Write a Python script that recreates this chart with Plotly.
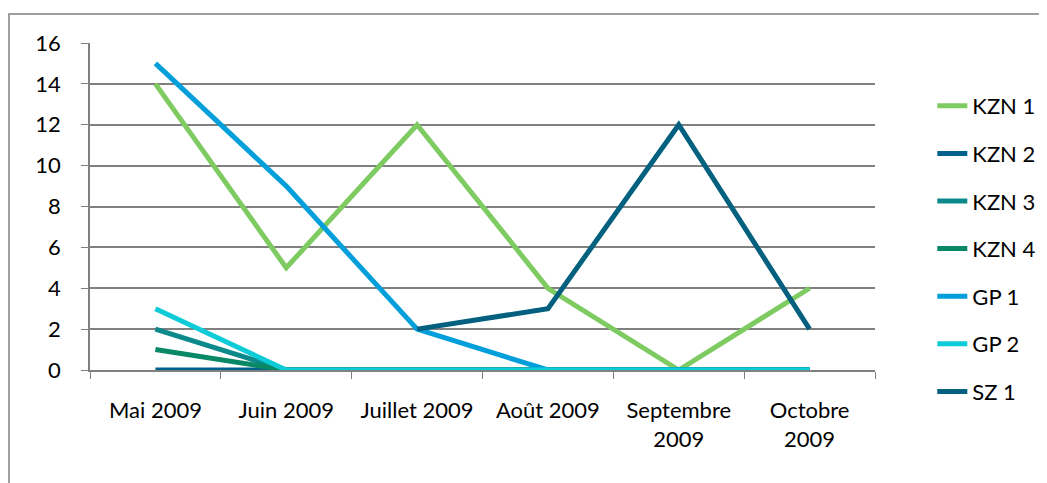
import plotly.graph_objects as go

months = ["Mai 2009", "Juin 2009", "Juillet 2009", "Août 2009", "Septembre<br>2009", "Octobre<br>2009"]
kzn1 = [14, 5, 12, 4, 0, 4]
kzn2 = [0, 0, 0, 0, 0, 0]
kzn3 = [2, 0, 0, 0, 0, 0]
kzn4 = [1, 0, 0, 0, 0, 0]
gp1 = [15, 9, 2, 0, 0, 0]
gp2 = [3, 0, 0, 0, 0, 0]
sz1 = [None, None, 2, 3, 12, 2]

series = [
    ("KZN 1", kzn1, "#7ECB62"),
    ("KZN 2", kzn2, "#00628C"),
    ("KZN 3", kzn3, "#0B898B"),
    ("KZN 4", kzn4, "#088865"),
    ("GP 1", gp1, "#029FDA"),
    ("GP 2", gp2, "#0DCCD7"),
    ("SZ 1", sz1, "#03607F"),
]

fig = go.Figure()
for i, (name, vals, col) in enumerate(series):
    fig.add_trace(go.Scatter(
        x=months, y=vals, name=name, mode="lines",
        line=dict(color=col, width=5),
        legendgroup=f"g{i}",
        connectgaps=False,
    ))

font = dict(family="Lato, Open Sans, sans-serif", size=22, color="#000000")

fig.update_layout(
    width=1047, height=483,
    margin=dict(l=82, r=180, t=35, b=121, autoexpand=False),
    paper_bgcolor="white", plot_bgcolor="white",
    font=font,
    showlegend=True,
    legend=dict(x=1.073, xanchor="left", y=0.8716, yanchor="top",
                yref="paper", tracegroupgap=16, font=font,
                maxheight=1.0,
                bgcolor="rgba(0,0,0,0)"),
    xaxis=dict(
        type="category", tickson="boundaries", ticks="outside", ticklen=7,
        tickcolor="#808080", showline=True, linecolor="#808080", linewidth=1.5,
        showgrid=False, tickfont=font, range=[-0.5, 5.5], fixedrange=True,
        ticklabelstandoff=20,
    ),
    yaxis=dict(
        range=[0, 16], dtick=2, ticks="outside", ticklen=7, tickcolor="#808080",
        showline=True, linecolor="#808080", linewidth=1.5,
        showgrid=True, gridcolor="#808080", gridwidth=1.5,
        zeroline=False, tickfont=font, ticklabelstandoff=16,
    ),
    shapes=[dict(type="rect", xref="paper", yref="paper",
                 x0=-0.1032, y0=-0.6, x1=1.4, y1=1.0887,
                 line=dict(color="#808080", width=1.5), layer="below")],
)

fig.write_html("out.html")
